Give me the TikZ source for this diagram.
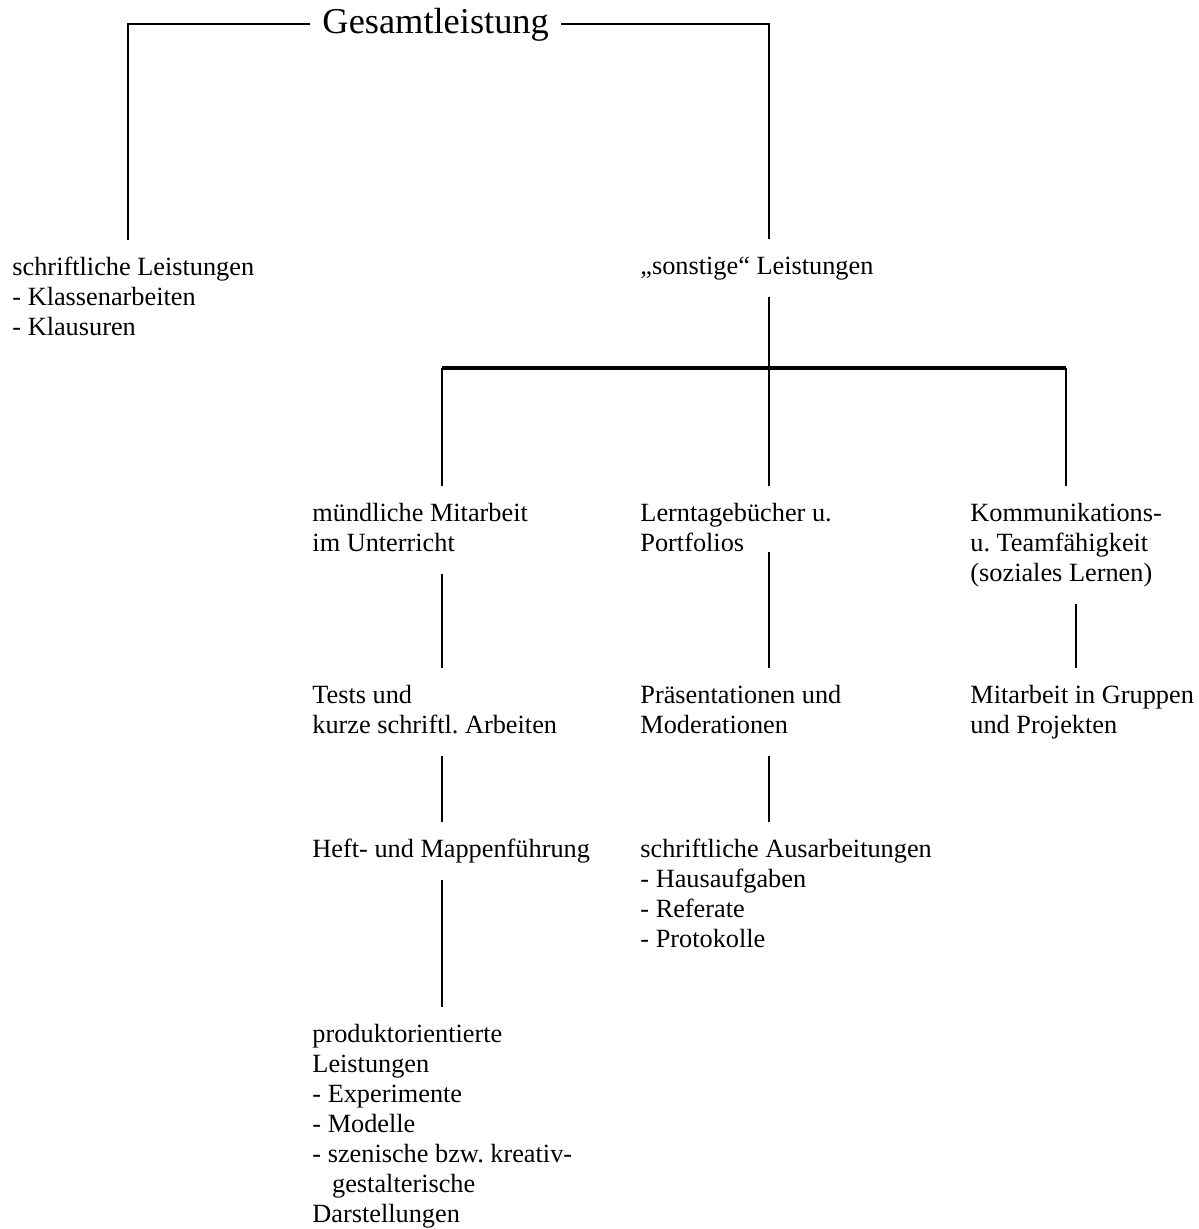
\documentclass[tikz,border=0pt]{standalone}
\usepackage{fontspec}
\setmainfont{Liberation Serif}
\usetikzlibrary{positioning}
\frenchspacing

\newcommand{\blk}[1]{\begin{tabular}[t]{@{}l@{}}#1\end{tabular}}

\begin{document}
\begin{tikzpicture}[x=0.4563pt, y=-0.4563pt,
		txt/.style={anchor=base west, inner xsep=0pt, inner ysep=6pt, font=\fontsize{12}{13.7}\selectfont},
		title/.style={anchor=base west, inner xsep=5.5pt, inner ysep=0pt, font=\fontsize{16.6}{19}\selectfont},
		con/.style={line width=0.9pt},
		bar/.style={line width=1.4pt}]
			\useasboundingbox (0,0) rectangle (1199,1229);
			
			% columns of the connectors
			\coordinate (cL) at (128,0);
			\coordinate (cA) at (442,0);
			\coordinate (cB) at (769,0);
			\coordinate (cC) at (1066,0);
			\coordinate (cD) at (1076,0);
			\coordinate (split) at (769,368);
			
			\node[title] (ges) at (310,33) {Gesamtleistung};
			
			\node[txt] (schr) at (12,275) {\blk{schriftliche Leistungen\\- Klassenarbeiten\\- Klausuren}};
			\node[txt] (sonst) at (640,274) {\blk{„sonstige“ Leistungen}};
			
			\node[txt] (mund) at (312,521) {\blk{mündliche Mitarbeit\\im Unterricht}};
			\node[txt] (lern) at (640,521) {\blk{Lerntagebücher u.\\Portfolios}};
			\node[txt] (komm) at (970,521) {\blk{Kommunikations-\\u. Teamfähigkeit\\(soziales Lernen)}};
			
			\node[txt] (tests) at (312,703) {\blk{Tests und\\kurze schriftl. Arbeiten}};
			\node[txt] (praes) at (640,703) {\blk{Präsentationen und\\Moderationen}};
			\node[txt] (mitgr) at (970,703) {\blk{Mitarbeit in Gruppen\\und Projekten}};
			
			\node[txt] (heft) at (312,857) {\blk{Heft- und Mappenführung}};
			\node[txt] (ausarb) at (640,857) {\blk{schriftliche Ausarbeitungen\\- Hausaufgaben\\- Referate\\- Protokolle}};
			
			\node[txt] (prod) at (312,1042) {\blk{produktorientierte\\Leistungen\\- Experimente\\- Modelle\\- szenische bzw. kreativ-\\\hspace*{9pt}gestalterische\\Darstellungen}};
			
			\draw[con] (ges.west) -| (schr.north -| cL);
			\draw[con] (ges.east) -| (sonst.north -| cB);
			
			\draw[con] (sonst.south -| cB) -- (split);
			\draw[bar] (split -| cA) -- (split -| cC);
			\draw[con] (split -| cA) -- (mund.north -| cA);
			\draw[con] (split) -- (lern.north -| cB);
			\draw[con] (split -| cC) -- (komm.north -| cC);
			
			\draw[con] (mund.south -| cA) -- (tests.north -| cA);
			\draw[con] (tests.south -| cA) -- (heft.north -| cA);
			\draw[con] (heft.south -| cA) -- (prod.north -| cA);
			\draw[con] ([yshift=10pt]lern.south -| cB) -- (praes.north -| cB);
			\draw[con] (praes.south -| cB) -- (ausarb.north -| cB);
			\draw[con] (komm.south -| cD) -- (mitgr.north -| cD);
		\end{tikzpicture}
\end{document}
